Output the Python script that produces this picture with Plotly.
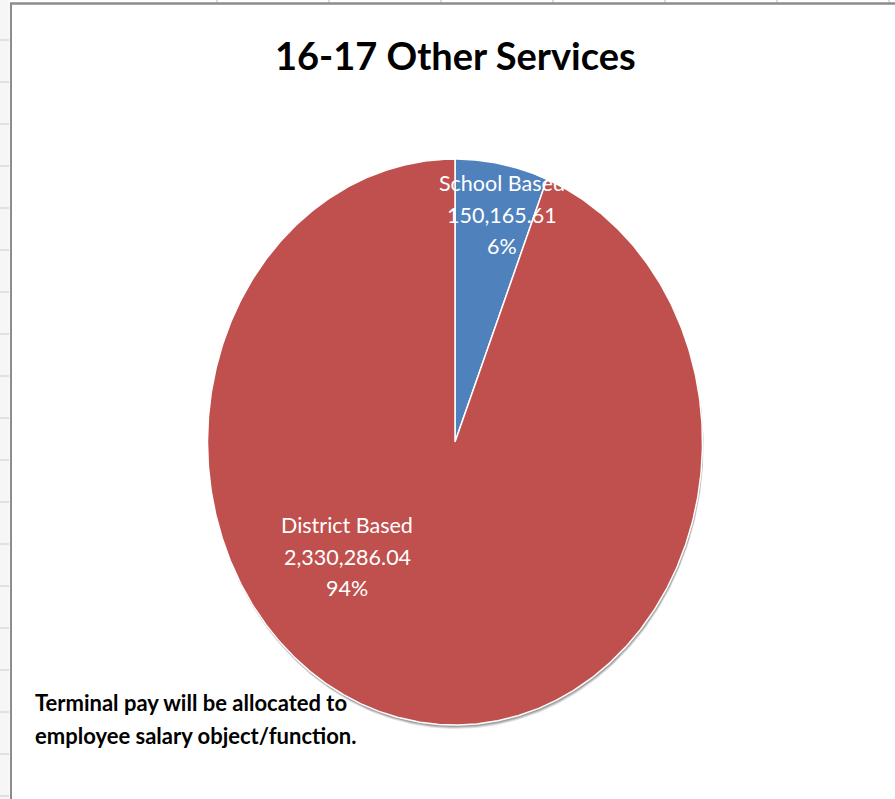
import numpy as np
import plotly.graph_objects as go

# Chart data
labels = ["School Based", "District Based"]
values = [150165.61, 2330286.04]
colors = ["#4F81BD", "#C0504D"]
title_text = "16-17 Other Services"
note_lines = ["Terminal pay will be allocated to", "employee salary object/function."]

W, H = 895, 799
CX, CY, RX, RY = 455.0, 442.0, 247.5, 283.0

FONT = "Lato, sans-serif"

total = sum(values)
fracs = [v / total for v in values]

fig = go.Figure()

# soft drop shadow under the pie
for off, op in [(4, 0.10), (3, 0.14), (2, 0.18)]:
    t = np.linspace(0, 2 * np.pi, 361)
    fig.add_trace(go.Scatter(
        x=CX + off * 0.3 + RX * np.sin(t), y=CY + off + RY * np.cos(t),
        mode="lines", fill="toself", fillcolor=f"rgba(0,0,0,{op})",
        line=dict(width=0), hoverinfo="skip", showlegend=False))

# wedges, clockwise from 12 o'clock
start = 0.0
for lab, val, frac, col in zip(labels, values, fracs, colors):
    end = start + frac * 2 * np.pi
    t = np.linspace(start, end, max(int(frac * 720), 8))
    xs = np.concatenate([[CX], CX + RX * np.sin(t), [CX]])
    ys = np.concatenate([[CY], CY - RY * np.cos(t), [CY]])
    fig.add_trace(go.Scatter(
        x=xs, y=ys, mode="lines", fill="toself", fillcolor=col,
        line=dict(color="white", width=1.5), hoverinfo="text",
        text=f"{lab}<br>{val:,.2f}<br>{frac:.0%}", showlegend=False))
    start = end

# data labels (name / value / percent)
label_pos = {"School Based": (502, 183), "District Based": (347, 525)}
for lab, val, frac in zip(labels, values, fracs):
    lx, ly = label_pos[lab]
    for i, line in enumerate([lab, f"{val:,.2f}", f"{frac:.0%}"]):
        fig.add_annotation(x=lx, y=ly + i * 31.5, text=line, showarrow=False,
                           xanchor="center", yanchor="middle",
                           font=dict(family=FONT, size=21.5, color="white"))

# title
fig.add_annotation(x=455.5, y=55, text=f"<b>{title_text}</b>", showarrow=False,
                   xanchor="center", yanchor="middle",
                   font=dict(family=FONT, size=38, color="black"))

# note
for i, line in enumerate(note_lines):
    fig.add_annotation(x=33, y=702 + i * 33, text=f"<b>{line}</b>", showarrow=False,
                       xanchor="left", yanchor="middle",
                       font=dict(family=FONT, size=22, color="black"))

# spreadsheet grid around the chart object
shapes = []
for k in range(19):
    y = 40 + 42 * k
    shapes.append(dict(type="line", x0=0, x1=9, y0=y, y1=y,
                       line=dict(color="#d9d9d9", width=1.5)))
for k in range(7):
    x = 217 + 112 * k
    shapes.append(dict(type="line", x0=x, x1=x, y0=0, y1=3,
                       line=dict(color="#d0d0d0", width=1.5)))
shapes.append(dict(type="rect", x0=0, x1=9.5, y0=0, y1=H, line=dict(width=0),
                   fillcolor="rgba(240,240,240,0.6)", layer="below"))
shapes.append(dict(type="line", x0=11, x1=11, y0=3, y1=H,
                   line=dict(color="#8c8c8c", width=2)))
shapes.append(dict(type="line", x0=10, x1=W, y0=3.5, y1=3.5,
                   line=dict(color="#8c8c8c", width=2.5)))

fig.update_layout(
    width=W, height=H, margin=dict(l=0, r=0, t=0, b=0),
    paper_bgcolor="white", plot_bgcolor="white",
    xaxis=dict(range=[0, W], visible=False, fixedrange=True),
    yaxis=dict(range=[H, 0], visible=False, fixedrange=True),
    shapes=shapes, showlegend=False,
)

fig.write_html("out.html")
